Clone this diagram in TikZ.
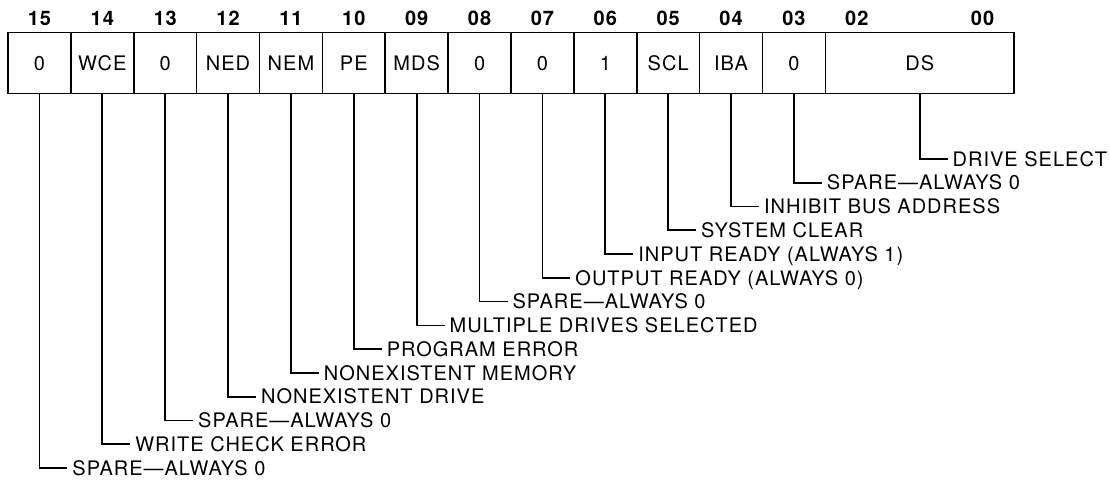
\documentclass[tikz,border=0pt]{standalone}
\usepackage{fontspec}
\setmainfont[LetterSpace=5]{TeX Gyre Heros}
\begin{document}
\begin{tikzpicture}[x=1pt,y=-1pt,line width=1.7pt,
  cell/.style={draw,rectangle,minimum width=62.875pt,minimum height=61pt,inner sep=0pt,outer sep=0pt,
    font=\fontsize{20}{24}\selectfont,text height=14.3pt,text depth=0pt},
  bitnum/.style={inner sep=0pt,outer sep=0pt,font=\bfseries\fontsize{20}{24}\selectfont},
  lab/.style={anchor=west,inner xsep=5pt,inner ysep=0pt,outer sep=0pt,
    font=\fontsize{20}{24}\selectfont,text height=14.3pt,text depth=0pt},
  conn/.style={line width=1.7pt}]
\useasboundingbox (0,0) rectangle (1110,479);
\foreach \p/\n/\t/\l in {
  0/15/0/SPARE—ALWAYS 0,
  1/14/WCE/WRITE CHECK ERROR,
  2/13/0/SPARE—ALWAYS 0,
  3/12/NED/NONEXISTENT DRIVE,
  4/11/NEM/NONEXISTENT MEMORY,
  5/10/PE/PROGRAM ERROR,
  6/09/MDS/MULTIPLE DRIVES SELECTED,
  7/08/0/SPARE—ALWAYS 0,
  8/07/0/OUTPUT READY (ALWAYS 0),
  9/06/1/INPUT READY (ALWAYS 1),
  10/05/SCL/SYSTEM CLEAR,
  11/04/IBA/INHIBIT BUS ADDRESS,
  12/03/0/SPARE—ALWAYS 0}{
  \pgfmathsetmacro\cx{8+(\p+0.5)*62.875}
  \pgfmathsetmacro\ly{159+23.77*(13-\p)}
  \node[cell] (c\n) at (\cx,63) {\t};
  \node[bitnum] (n\n) at (\cx,18) {\n};
  \node[lab] (l\n) at (\cx+28,\ly) {\l};
  \draw[conn] (c\n.south) |- (l\n.west);
}
\node[cell,minimum width=188.625pt] (cDS) at (919.7,63) {DS};
\node[bitnum] (n02) at (856.8,18) {02};
\node[bitnum] (n00) at (982.6,18) {00};
\node[lab] (lDS) at (947.7,159) {DRIVE SELECT};
\draw[conn] (cDS.south) |- (lDS.west);
\end{tikzpicture}
\end{document}
